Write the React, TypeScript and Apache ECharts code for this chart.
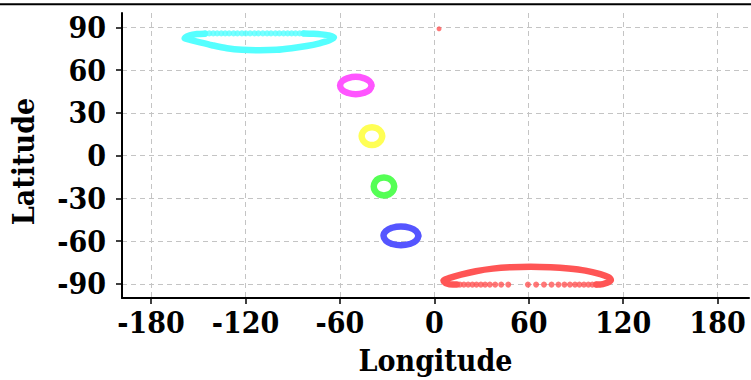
import React, { useEffect, useRef } from "react";
import * as echarts from "echarts";

const xTicks = [-180, -120, -60, 0, 60, 120, 180];
const yTicks = [-90, -60, -30, 0, 30, 60, 90];

// cyan ring (continuous part) and its dotted top row
const cyanArc: [number, number][] = [
  [-83.1, 85.6], [-76.8, 85.4], [-71.7, 85.0], [-67.3, 84.3], [-63.8, 82.9],
  [-66.7, 80.8], [-73.0, 78.7], [-81.2, 76.8], [-90.7, 75.3], [-100.2, 74.2],
  [-111.0, 73.9], [-122.3, 74.2], [-131.8, 75.3], [-141.3, 77.4], [-148.9, 79.4],
  [-155.3, 81.2], [-158.7, 82.2], [-155.3, 84.3], [-150.8, 85.2], [-145.8, 85.5],
];
const cyanDots: [number, number][] = [
  [-145.6, 85.7], [-143.0, 85.7], [-140.5, 85.7], [-138.0, 85.7], [-135.4, 85.7],
  [-132.9, 85.7], [-130.4, 85.7], [-127.6, 85.7], [-125.1, 85.7], [-122.3, 85.7],
  [-119.8, 85.7], [-117.1, 85.7], [-114.3, 85.7], [-111.8, 85.7], [-109.0, 85.7],
  [-106.3, 85.7], [-103.8, 85.7], [-101.0, 85.7], [-98.5, 85.7], [-95.8, 85.7],
  [-93.2, 85.7], [-90.7, 85.7], [-88.2, 85.7], [-85.6, 85.7], [-83.1, 85.7],
];

const magentaRing: [number, number][] = [
  [-39.9, 49.1], [-41.2, 52.1], [-44.9, 54.3], [-49.9, 55.2], [-54.9, 54.3],
  [-58.6, 52.1], [-59.9, 49.1], [-58.6, 46.1], [-54.9, 43.9], [-49.9, 43.0],
  [-44.9, 43.9], [-41.2, 46.1], [-39.9, 49.1],
];
const yellowRing: [number, number][] = [
  [-33.1, 13.6], [-34.0, 16.7], [-36.4, 19.0], [-39.6, 19.9], [-42.9, 19.0],
  [-45.3, 16.7], [-46.2, 13.6], [-45.3, 10.5], [-42.9, 8.2], [-39.6, 7.3],
  [-36.4, 8.2], [-34.0, 10.5], [-33.1, 13.6],
];
const greenRing: [number, number][] = [
  [-25.5, -21.7], [-26.4, -18.6], [-28.8, -16.3], [-32.0, -15.4], [-35.3, -16.3],
  [-37.6, -18.6], [-38.5, -21.7], [-37.6, -24.9], [-35.3, -27.2], [-32.0, -28.0],
  [-28.8, -27.2], [-26.4, -24.9], [-25.5, -21.7],
];
const blueRing: [number, number][] = [
  [-10.1, -56.4], [-11.6, -53.1], [-15.7, -50.7], [-21.2, -49.8], [-26.8, -50.7],
  [-30.8, -53.1], [-32.3, -56.4], [-30.8, -59.7], [-26.8, -62.1], [-21.2, -63.0],
  [-15.7, -62.1], [-11.6, -59.7], [-10.1, -56.4],
];

// red ring (continuous part) and its dotted bottom row
const redArc: [number, number][] = [
  [103.0, -90.6], [105.5, -90.6], [109.3, -89.5], [112.2, -87.5], [110.6, -85.4],
  [105.5, -83.3], [96.0, -80.8], [85.3, -79.3], [73.9, -78.4], [61.2, -78.0],
  [48.5, -78.4], [37.2, -79.4], [26.4, -81.2], [16.9, -83.6], [9.3, -86.1],
  [5.8, -87.8], [8.0, -89.9], [11.8, -90.6], [14.3, -90.6],
];
const redDots: [number, number][] = [
  [16.3, -90.6], [18.8, -90.6], [21.5, -90.6], [24.2, -90.6], [26.8, -90.6],
  [29.6, -90.6], [32.3, -90.6], [35.3, -90.6], [38.7, -90.6], [42.5, -90.6],
  [47.0, -90.6], [59.5, -90.6], [64.7, -90.6], [69.7, -90.6], [74.5, -90.6],
  [78.9, -90.6], [82.7, -90.6], [86.2, -90.6], [89.4, -90.6], [92.2, -90.6],
  [95.1, -90.6], [97.9, -90.6], [100.4, -90.6], [103.0, -90.6],
];
const redPoint: [number, number][] = [[3.0, 88.9]];

const FONT = '"DejaVu Serif Condensed", "DejaVu Serif", serif';

const ringLine = (data: [number, number][], color: string, smooth: number) => ({
  type: "line",
  data,
  smooth,
  showSymbol: false,
  symbol: "none",
  lineStyle: { color, width: 6.5, cap: "round", join: "round" },
  silent: true,
});
const dots = (data: [number, number][], color: string, size: number) => ({
  type: "scatter",
  data,
  symbol: "circle",
  symbolSize: size,
  itemStyle: { color },
  silent: true,
});

export default function App() {
  const ref = useRef<HTMLDivElement>(null);
  useEffect(() => {
    if (!ref.current) return;
    const chart = echarts.init(ref.current, null, { renderer: "svg" });
    const axisLabel = (vals: number[]) => ({
      customValues: vals,
      color: "#000",
      fontFamily: FONT,
      fontWeight: "bold",
      fontSize: 30,
    });
    const split = {
      show: true,
      lineStyle: { color: "#c4c4c4", width: 1, type: [5, 4] },
    };
    chart.setOption({
      animation: false,
      backgroundColor: "#fff",
      grid: { left: 120, right: 2, top: 13, bottom: 80, containLabel: false },
      graphic: [
        {
          type: "line",
          shape: { x1: 0, y1: 4.3, x2: 751, y2: 4.3 },
          style: { stroke: "#000", lineWidth: 2 },
        },
      ],
      xAxis: {
        type: "value",
        min: -198.5,
        max: 200,
        name: "Longitude",
        nameLocation: "middle",
        nameGap: 47,
        nameTextStyle: { color: "#000", fontFamily: FONT, fontWeight: "bold", fontSize: 30 },
        axisLine: { show: true, onZero: false, lineStyle: { color: "#000", width: 2 } },
        axisTick: { show: true, customValues: xTicks, length: 6, lineStyle: { color: "#000", width: 1.5 } },
        axisLabel: { ...axisLabel(xTicks), margin: 9 },
        splitLine: split,
      },
      yAxis: {
        type: "value",
        min: -100,
        max: 100,
        name: "Latitude",
        nameLocation: "middle",
        nameGap: 84,
        nameTextStyle: {
          color: "#000",
          fontFamily: FONT,
          fontWeight: "bold",
          fontSize: 30,
          padding: [0, 12, 0, 0],
        },
        axisLine: { show: true, onZero: false, lineStyle: { color: "#000", width: 2 } },
        axisTick: { show: true, customValues: yTicks, length: 6, lineStyle: { color: "#000", width: 1.5 } },
        axisLabel: { ...axisLabel(yTicks), margin: 16 },
        splitLine: split,
      },
      series: [
        ringLine(cyanArc, "#55ffff", 0.3),
        dots(cyanDots, "#55ffff", 6),
        ringLine(magentaRing, "#ff55ff", 0.5),
        ringLine(yellowRing, "#ffff55", 0.5),
        ringLine(greenRing, "#55ff55", 0.5),
        ringLine(blueRing, "#5555ff", 0.5),
        ringLine(redArc, "#ff5555", 0.3),
        dots(redDots, "#ff5555", 6),
        dots(redPoint, "#ff5555", 5),
      ],
    });
    return () => chart.dispose();
  }, []);
  return (
    <div
      ref={ref}
      style={{ position: "absolute", left: 0, top: 0, width: 751, height: 380 }}
    />
  );
}
